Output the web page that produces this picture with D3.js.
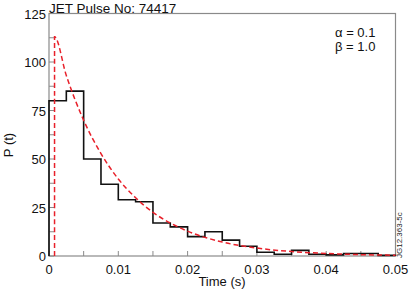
<!DOCTYPE html>
<html><head><meta charset="utf-8">
<script src="https://cdn.jsdelivr.net/npm/d3@7"></script>
<style>body{margin:0;background:#fff}svg{display:block}text{font-family:"Liberation Sans",Arial,sans-serif}</style>
</head><body><svg id="c" width="409" height="291"></svg>
<script>
const binEdges = [0,0.0025,0.005,0.0075,0.01,0.0125,0.015,0.0175,0.02,0.0225,0.025,0.0275,0.03,0.0325,0.035,0.0375,0.04,0.0425,0.045,0.0475,0.05];
const binValues = [80,85,50,37,29,28,17,15,10,12.5,8.2,5,1.9,0.9,2.9,0.9,0.6,1.3,1.3,0.3];
const fitT = [0.0008,0.0008,0.0025,0.005,0.0075,0.01,0.0125,0.015,0.0175,0.02,0.025,0.03,0.035,0.04,0.045,0.05];
const fitP = [0,113,93,70,52.8,39.7,30,22.5,17,12.8,7.2,4.1,2.3,1.3,0.7,0.4];
const xTicks = [0,0.01,0.02,0.03,0.04,0.05];
const xTickLabels = ["0","0.01","0.02","0.03","0.04","0.05"];
const yTicks = [0,25,50,75,100,125];
const title = "JET Pulse No: 74417";
const params = ["\u03b1 = 0.1","\u03b2 = 1.0"];
const code = "JG12.363-5c";

const svg = d3.select("#c");
const L=49,R=395.5,T=13.5,B=256;
const x = d3.scaleLinear().domain([0,0.05]).range([L,R]);
const y = d3.scaleLinear().domain([0,125]).range([B,T]);
const grey="#8a8a8a";

svg.append("rect").attr("x",L).attr("y",T).attr("width",R-L).attr("height",B-T)
  .attr("fill","none").attr("stroke",grey).attr("stroke-width",1.2);

const xMinor = d3.range(0,0.0501,0.005);
svg.append("g").selectAll("line").data(xMinor).join("line")
  .attr("x1",d=>x(d)).attr("x2",d=>x(d)).attr("y1",B).attr("y2",B-5)
  .attr("stroke",grey).attr("stroke-width",1);
const yMinor = d3.range(0,125.1,12.5);
svg.append("g").selectAll("line").data(yMinor).join("line")
  .attr("x1",L).attr("x2",L+5).attr("y1",d=>y(d)).attr("y2",d=>y(d))
  .attr("stroke",grey).attr("stroke-width",1);

svg.append("g").selectAll("text").data(xTicks).join("text")
  .attr("x",d=>x(d)).attr("y",B+18).attr("text-anchor","middle")
  .attr("font-size",13).attr("fill","#111").text((d,i)=>xTickLabels[i]);
svg.append("g").selectAll("text").data(yTicks).join("text")
  .attr("x",L-3).attr("y",d=>y(d)+5).attr("text-anchor","end")
  .attr("font-size",13).attr("fill","#111").text(d=>d);

const pts=[[binEdges[0],0]];
binValues.forEach((v,i)=>{pts.push([binEdges[i],v]);pts.push([binEdges[i+1],v]);});
pts.push([binEdges[binEdges.length-1],0]);
svg.append("path").attr("d",d3.line().x(d=>x(d[0])).y(d=>y(d[1]))(pts))
  .attr("fill","none").attr("stroke","#111").attr("stroke-width",1.6);

svg.append("path").attr("d",d3.line().x((d,i)=>x(fitT[i])).y((d,i)=>y(fitP[i])).curve(d3.curveMonotoneX)(fitT))
  .attr("fill","none").attr("stroke","#e8202a").attr("stroke-width",1.5).attr("stroke-dasharray","5,3");

svg.append("text").attr("x",L).attr("y",12.5).attr("font-size",13.5).attr("fill","#111").text(title);
params.forEach((p,i)=>svg.append("text").attr("x",335).attr("y",37+i*13.5).attr("font-size",13).attr("fill","#111").text(p));
svg.append("text").attr("transform","translate(13,145) rotate(-90)").attr("text-anchor","middle")
  .attr("font-size",13).attr("fill","#111").text("P (t)");
svg.append("text").attr("x",222).attr("y",286).attr("text-anchor","middle")
  .attr("font-size",13).attr("fill","#111").text("Time (s)");
svg.append("text").attr("transform","translate(402,258) rotate(-90)").attr("text-anchor","start")
  .attr("font-size",8).attr("fill","#222").text(code);
</script></body></html>
